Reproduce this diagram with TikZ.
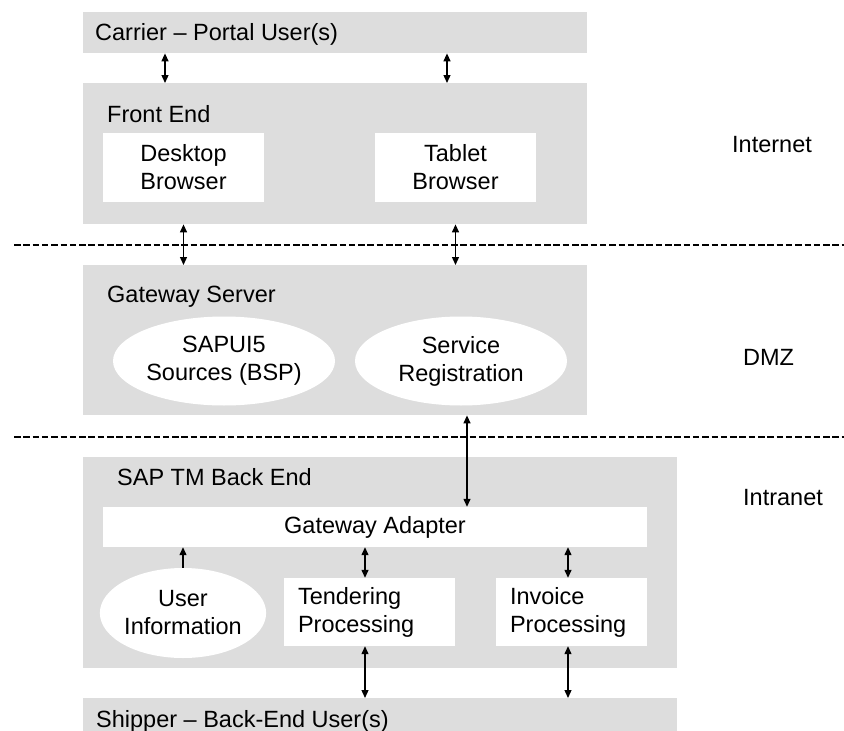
\documentclass[tikz,border=0pt]{standalone}
\usepackage{fontspec}
\setmainfont{Liberation Sans}
\usetikzlibrary{shapes.geometric,arrows.meta,calc}
\definecolor{panelgray}{RGB}{221,221,221}
\begin{document}
\begin{tikzpicture}[x=1pt,y=-1pt,
  every node/.style={font=\fontsize{23.5}{28}\selectfont, inner sep=0pt},
  panel/.style={fill=panelgray, draw=none, anchor=north west, rectangle},
  wbox/.style={fill=white, draw=none, rectangle, align=center},
  tbox/.style={fill=white, draw=none, rectangle, align=left, inner xsep=14pt},
  oval/.style={fill=white, draw=none, ellipse, align=center},
  lbl/.style={anchor=base west},
  dbl/.style={{Triangle[length=8pt,width=7pt]}-{Triangle[length=8pt,width=7pt]}, line width=1.3pt},
  sgl/.style={-{Triangle[length=8pt,width=7pt]}, line width=1.3pt},
  zone/.style={dash pattern=on 6.5pt off 2.8pt, line width=1.2pt}]
\useasboundingbox (0,0) rectangle (844,731);

% panels
\node[panel, minimum width=504, minimum height=41] (carrier) at (83,12) {};
\node[panel, minimum width=504, minimum height=141] (fe) at (83,83) {};
\node[panel, minimum width=504, minimum height=150] (gw) at (83,265) {};
\node[panel, minimum width=594, minimum height=211] (be) at (83,457) {};
\node[panel, minimum width=594, minimum height=40] (ship) at (83,698) {};

% panel labels
\node[lbl] (carrierlbl) at (95,40) {Carrier – Portal User(s)};
\node[lbl] (felbl) at (107,122) {Front End};
\node[lbl] (gwlbl) at (107,302) {Gateway Server};
\node[lbl] (belbl) at (117,485) {SAP TM Back End};
\node[lbl] (shiplbl) at (96,727) {Shipper – Back-End User(s)};

% zone labels
\node[lbl] (inet) at (732,152) {Internet};
\node[lbl] (dmz) at (743,365) {DMZ};
\node[lbl] (intra) at (743,505) {Intranet};

% zone separators
\draw[zone] (14,245) -- (844,245);
\draw[zone] (14,437) -- (844,437);

% inner elements
\node[wbox, minimum width=161, minimum height=69] (desk) at (183.5,167.5) {Desktop\\Browser};
\node[wbox, minimum width=161, minimum height=69] (tab) at (455.5,167.5) {Tablet\\Browser};
\node[oval, minimum width=222, minimum height=89] (sapui) at (224,361) {SAPUI5\\Sources (BSP)};
\node[oval, minimum width=212, minimum height=89] (sreg) at (461,361) {Service\\Registration};
\node[wbox, minimum width=544, minimum height=40] (ga) at (375,527) {Gateway Adapter};
\node[oval, minimum width=160, minimum height=90] (user) at (183,613) {User\\Information};
\node[tbox, text width=143pt, minimum height=68] (tend) at (369.5,612) {Tendering\\Processing};
\node[tbox, text width=123pt, minimum height=68] (inv) at (571.5,612) {Invoice\\Processing};

% connector columns
\coordinate (c1) at (165,0);
\coordinate (c2) at (447,0);
\coordinate (c3) at (467,0);
\coordinate (c4) at (365,0);
\coordinate (c5) at (568,0);

% connectors
\draw[dbl] (carrier.south -| c1) -- (fe.north -| c1);
\draw[dbl] (carrier.south -| c2) -- (fe.north -| c2);
\draw[dbl] (fe.south -| desk) -- (gw.north -| desk);
\draw[dbl] (fe.south -| tab) -- (gw.north -| tab);
\draw[dbl] (gw.south -| c3) -- (ga.north -| c3);
\draw[sgl] (user.north) -- (ga.south -| user);
\draw[dbl] (ga.south -| c4) -- (tend.north -| c4);
\draw[dbl] (ga.south -| c5) -- (inv.north -| c5);
\draw[dbl] (tend.south -| c4) -- (ship.north -| c4);
\draw[dbl] (inv.south -| c5) -- (ship.north -| c5);
\end{tikzpicture}
\end{document}
